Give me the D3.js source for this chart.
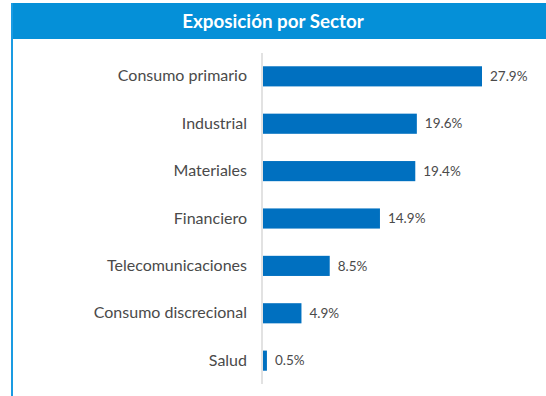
<!DOCTYPE html>
<html>
<head>
<meta charset="utf-8">
<script src="https://cdn.jsdelivr.net/npm/d3@7"></script>
<style>
  html, body { margin: 0; padding: 0; background: #fff; }
  svg { display: block; }
</style>
</head>
<body>
<svg id="chart" width="546" height="396"></svg>
<script>
// Sector exposure (% of portfolio)
const title = "Exposición por Sector";
const sectors = ["Consumo primario", "Industrial", "Materiales", "Financiero",
                 "Telecomunicaciones", "Consumo discrecional", "Salud"];
const weights = [27.9, 19.6, 19.4, 14.9, 8.5, 4.9, 0.5];

const W = 546, H = 396;
const svg = d3.select("#chart");
const font = "Lato, 'Open Sans', sans-serif";

// Panel frame: blue header band and left rule
svg.append("rect")
  .attr("x", 11).attr("y", 3).attr("width", W - 11).attr("height", 36)
  .attr("fill", "#0590d8");
svg.append("line")
  .attr("x1", 12).attr("x2", 12).attr("y1", 3).attr("y2", H)
  .attr("stroke", "#1a9be2").attr("stroke-width", 2);
svg.append("text")
  .attr("x", 273).attr("y", 27.5)
  .attr("text-anchor", "middle")
  .attr("font-family", font).attr("font-weight", 700).attr("font-size", 18.8)
  .attr("fill", "#fff")
  .text(title);

// Plot area
const x0 = 263;
const x = d3.scaleLinear().domain([0, 27.9]).range([x0, 482]);
const y = d3.scaleBand().domain(sectors).range([53, 384]).paddingInner(0.575).paddingOuter(0.28);

const g = svg.append("g");

g.selectAll("rect.bar")
  .data(sectors)
  .join("rect")
  .attr("class", "bar")
  .attr("x", x(0))
  .attr("y", d => y(d))
  .attr("width", (d, i) => x(weights[i]) - x(0))
  .attr("height", y.bandwidth())
  .attr("fill", "#0070c0");

// Category axis (vertical rule, labels to the left)
const axis = g.append("g")
  .attr("transform", `translate(${x0 - 1},0)`)
  .call(d3.axisLeft(y).tickSize(0).tickPadding(15));
axis.select(".domain").attr("stroke", "#d9d9d9").attr("stroke-width", 1.5)
  .attr("d", "M0,53V384");
axis.selectAll("text")
  .attr("font-family", font).attr("font-size", 16).attr("fill", "#4a4a4a");

// Value labels
g.selectAll("text.val")
  .data(sectors)
  .join("text")
  .attr("class", "val")
  .attr("x", (d, i) => x(weights[i]) + 8)
  .attr("y", d => y(d) + y.bandwidth() / 2)
  .attr("dy", "0.35em")
  .attr("font-family", font).attr("font-size", 13.5).attr("fill", "#4a4a4a")
  .text((d, i) => weights[i].toFixed(1) + "%");
</script>
</body>
</html>
